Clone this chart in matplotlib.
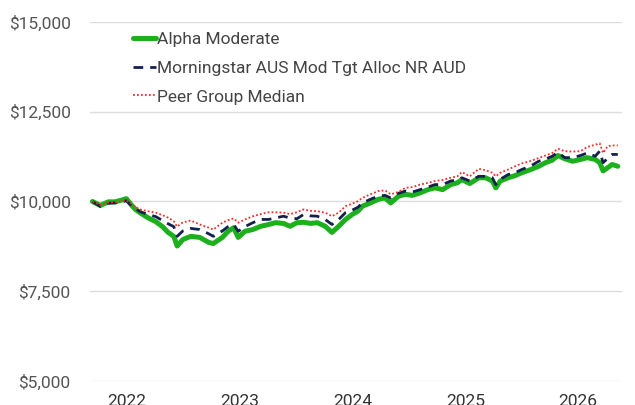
import matplotlib
matplotlib.use("Agg")
import matplotlib.pyplot as plt
from matplotlib.ticker import FuncFormatter

plt.rcParams['font.family'] = ['Roboto', 'DejaVu Sans']

# decimal years of the sampled points
years = [2021.70, 2021.77, 2021.84, 2021.90, 2021.96, 2022.00, 2022.04, 2022.08, 2022.12, 2022.19,
         2022.26, 2022.32, 2022.37, 2022.42, 2022.45, 2022.50, 2022.57, 2022.65, 2022.73, 2022.77,
         2022.85, 2022.90, 2022.95, 2022.99, 2023.05, 2023.12, 2023.19, 2023.26, 2023.32, 2023.39,
         2023.45, 2023.51, 2023.57, 2023.63, 2023.69, 2023.76, 2023.82, 2023.88, 2023.94, 2024.00,
         2024.05, 2024.09, 2024.16, 2024.23, 2024.29, 2024.34, 2024.41, 2024.47, 2024.53, 2024.60,
         2024.67, 2024.73, 2024.80, 2024.87, 2024.93, 2024.97, 2025.04, 2025.12, 2025.18, 2025.24,
         2025.27, 2025.31, 2025.38, 2025.44, 2025.50, 2025.58, 2025.65, 2025.71, 2025.77, 2025.82,
         2025.88, 2025.95, 2026.02, 2026.08, 2026.15, 2026.19, 2026.22, 2026.26, 2026.30, 2026.35]

alpha_moderate = [10000, 9890, 9990, 9990, 10040, 10080, 9920, 9780, 9690, 9550,
                  9440, 9300, 9140, 9030, 8760, 8940, 9030, 9000, 8860, 8830,
                  9000, 9170, 9270, 9000, 9170, 9220, 9310, 9360, 9410, 9390,
                  9310, 9410, 9420, 9390, 9410, 9310, 9140, 9310, 9500, 9640,
                  9730, 9870, 9960, 10060, 10100, 9960, 10150, 10200, 10170, 10240,
                  10330, 10380, 10330, 10470, 10520, 10610, 10500, 10660, 10660, 10570,
                  10380, 10570, 10660, 10720, 10800, 10890, 10980, 11080, 11150, 11280,
                  11190, 11120, 11170, 11220, 11170, 11080, 10850, 10940, 11030, 10980]

morningstar = [10000, 9860, 9950, 9960, 9990, 10020, 9900, 9800, 9720, 9640,
               9580, 9470, 9380, 9300, 9030, 9180, 9250, 9220, 9100, 9030,
               9180, 9300, 9360, 9170, 9300, 9410, 9500, 9500, 9540, 9590,
               9540, 9520, 9640, 9600, 9590, 9500, 9360, 9500, 9690, 9760,
               9840, 9960, 10060, 10150, 10170, 10100, 10230, 10290, 10260, 10330,
               10400, 10470, 10470, 10570, 10600, 10660, 10570, 10700, 10700, 10660,
               10470, 10620, 10750, 10800, 10890, 10990, 11120, 11180, 11260, 11370,
               11220, 11220, 11280, 11350, 11260, 11400, 11080, 11200, 11310, 11310]

peer_median = [10000, 9900, 9970, 9980, 10010, 10030, 9950, 9850, 9780, 9730,
               9690, 9620, 9550, 9450, 9300, 9420, 9470, 9360, 9270, 9220,
               9410, 9480, 9530, 9410, 9500, 9590, 9650, 9700, 9700, 9690,
               9650, 9700, 9780, 9740, 9730, 9690, 9590, 9690, 9870, 9940,
               10010, 10100, 10200, 10290, 10310, 10200, 10270, 10380, 10400, 10470,
               10520, 10570, 10600, 10660, 10700, 10820, 10700, 10910, 10870, 10800,
               10700, 10800, 10890, 10980, 11060, 11130, 11210, 11280, 11350, 11470,
               11400, 11390, 11400, 11520, 11580, 11620, 11350, 11540, 11560, 11560]

year_ticks = [2022, 2023, 2024, 2025, 2026]
value_ticks = [5000, 7500, 10000, 12500, 15000]

fig = plt.figure(figsize=(6.35, 4.05), dpi=100)
ax = fig.add_axes([0.142, 0.059, 0.838, 0.887])

ax.plot(years, alpha_moderate, color='#1db01d', lw=3.6, label='Alpha Moderate', solid_capstyle='round')
ax.plot(years, morningstar, color='#14214f', lw=2.0, dashes=(3.5, 2.5), label='Morningstar AUS Mod Tgt Alloc NR AUD')
ax.plot(years, peer_median, color='#ff2a2a', lw=1.3, ls=(0, (1, 1.2)), label='Peer Group Median')

ax.set_xlim(2021.68, 2026.39)
ax.set_ylim(5000, 15000)
ax.set_xticks(year_ticks)
ax.set_xticklabels([str(y) for y in year_ticks])
ax.set_yticks(value_ticks)
ax.yaxis.set_major_formatter(FuncFormatter(lambda v, p: '${:,.0f}'.format(v)))

ax.grid(axis='y', color='#dddddd', lw=1)
ax.set_axisbelow(True)
for s in ax.spines.values():
    s.set_visible(False)
ax.tick_params(axis='both', length=0, labelsize=12.5, colors='#555555')
ax.tick_params(axis='y', pad=14)
ax.tick_params(axis='x', pad=9, labelcolor='#333333')

leg = ax.legend(loc='upper left', bbox_to_anchor=(0.064, 0.997), frameon=False, fontsize=12.5,
                handlelength=1.35, handletextpad=0.05, labelspacing=0.79, borderpad=0)
for t in leg.get_texts():
    t.set_color('#444444')

fig.savefig('out.png', dpi=100)
